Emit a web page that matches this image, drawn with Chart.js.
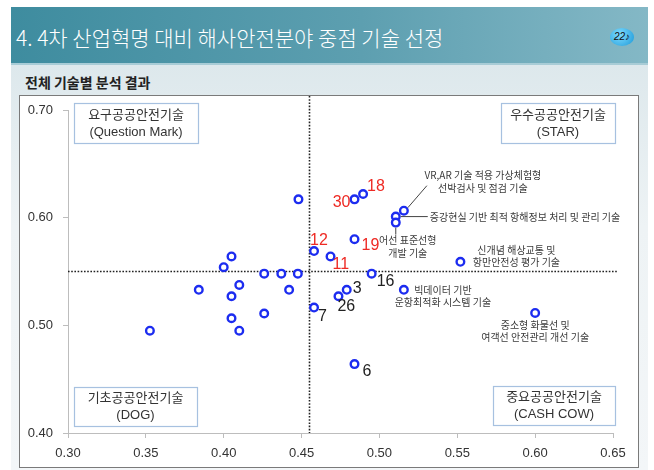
<!DOCTYPE html>
<html>
<head>
<meta charset="utf-8">
<script src="https://cdn.jsdelivr.net/npm/chart.js@4/dist/chart.umd.min.js"></script>
<style>
  html, body { margin: 0; padding: 0; background: #fff; }
  #page { position: relative; width: 654px; height: 470px; overflow: hidden; font-family: 'Noto Sans CJK KR', sans-serif; }
  #banner { position: absolute; left: 11px; top: 7px; width: 637px; height: 56px;
    background: linear-gradient(to right, #3e8c9f 0%, #5d9fb0 55%, #84b8c6 100%);
    border-bottom: 2px solid #a8ccd6; }
  #title { position: absolute; left: 5px; top: 17px; color: #fff; font-size: 21px; font-weight: 300; line-height: 26px; white-space: nowrap; }
  #badge { position: absolute; left: 599px; top: 21px; width: 24px; height: 18px; border-radius: 50%;
    background: radial-gradient(circle at 40% 35%, #7fdcff, #1a98d8); color: #111; font: italic 10px 'Liberation Sans', sans-serif;
    line-height: 18px; text-align: center; }
  #body { position: absolute; left: 11px; top: 65px; width: 637px; height: 405px;
    background: linear-gradient(#dde8ec, #eef3f5 40%, #f3f6f8); }
  #subtitle { position: absolute; left: 14px; top: 7px; font-size: 14px; font-weight: 700; color: #222; }
  #frame { position: absolute; left: 19px; top: 95px; width: 618px; height: 371px; background: #fff; border: 1px solid #7a7a7a; }
  #myChart { position: absolute; left: 0; top: 0; }
</style>
</head>
<body>
<div id="page">
  <div id="banner">
    <div id="title">4. 4차 산업혁명 대비 해사안전분야 중점 기술 선정</div>
    <div id="badge">22♪</div>
  </div>
  <div id="body"><div id="subtitle">전체 기술별 분석 결과</div></div>
  <div id="frame"></div>
  <canvas id="myChart" width="654" height="470"></canvas>
</div>
<script>
// 기술별 좌표 (x, y)
const scoreX = [0.448, 0.484, 0.4895, 0.5157, 0.5105, 0.5105, 0.484, 0.458, 0.4686, 0.405,
  0.400, 0.426, 0.437, 0.4476, 0.495, 0.384, 0.410, 0.405, 0.442, 0.479,
  0.4737, 0.5157, 0.458, 0.426, 0.405, 0.410, 0.3526, 0.552, 0.600, 0.484];
const scoreY = [0.617, 0.617, 0.622, 0.6065, 0.601, 0.5954, 0.580, 0.569, 0.564, 0.564,
  0.554, 0.548, 0.548, 0.548, 0.548, 0.533, 0.5375, 0.527, 0.533, 0.533,
  0.527, 0.533, 0.5165, 0.511, 0.5066, 0.495, 0.495, 0.559, 0.5115, 0.464];
const pointTags = ['', '30', '18', '', '', '', '19', '12', '11', '',
  '', '', '', '', '16', '', '', '', '', '3',
  '26', '', '7', '', '', '', '', '', '', '6'];
const redTags = ['30', '18', '12', '11', '19'];
const techNotes = [
  { point: 3, lines: ['VR,AR 기술 적용 가상체험형', '선박검사 및 점검 기술'] },
  { point: 4, lines: ['증강현실 기반 최적 항해정보 처리 및 관리 기술'] },
  { point: 5, lines: ['어선 표준선형', '개발 기술'] },
  { point: 27, lines: ['신개념 해상교통 및', '항만안전성 평가 기술'] },
  { point: 21, lines: ['빅데이터 기반', '운항최적화 시스템 기술'] },
  { point: 28, lines: ['중소형 화물선 및', '여객선 안전관리 개선 기술'] },
];
const quadrants = [
  ['요구공공안전기술', '(Question Mark)'],
  ['우수공공안전기술', '(STAR)'],
  ['기초공공안전기술', '(DOG)'],
  ['중요공공안전기술', '(CASH COW)'],
];
const xCut = 0.455;
const yCut = 0.55;

// 스타일 / 위치 (데이터 아님)
const tagOffsets = {
  '30': [-4, 3, 'right'], '18': [4, -7, 'left'], '12': [-4, -10, 'left'], '11': [2, 8, 'left'],
  '19': [7, 6, 'left'], '16': [5, 8, 'left'], '3': [6, -1, 'left'], '26': [-1, 10, 'left'],
  '7': [4, 9, 'left'], '6': [8, 8, 'left'],
};
const noteLayout = [
  { dx: 79, dy: -35, align: 'center', line: [4, -3, 23, -25] },
  { dx: 34, dy: 1, align: 'left', line: [5, 0, 32, 0] },
  { dx: 12, dy: 18, align: 'center', line: [0, 5, 0, 12] },
  { dx: 56, dy: -12, align: 'center' },
  { dx: 39, dy: 0, align: 'center' },
  { dx: 0, dy: 12, align: 'center' },
];
const boxLayout = [
  { left: 6, top: -7, w: 124, h: 40 },
  { right: 2, top: -7, w: 114, h: 40 },
  { left: 6, bottom: -46, w: 123, h: 39 },
  { right: 2, bottom: -47, w: 122, h: 39 },
];
const fontFamily = "'Liberation Sans', 'Noto Sans CJK KR', sans-serif";

const overlay = {
  id: 'overlay',
  beforeDatasetsDraw(chart) {
    const { ctx, chartArea, scales: { x, y } } = chart;
    ctx.save();
    // 점선 기준선
    ctx.strokeStyle = '#222';
    ctx.lineWidth = 1.6;
    ctx.setLineDash([1.6, 1.6]);
    const vx = Math.round(x.getPixelForValue(xCut)) + 0.5;
    ctx.beginPath();
    ctx.moveTo(vx, chartArea.top - 14);
    ctx.lineTo(vx, chartArea.bottom);
    ctx.stroke();
    const hy = Math.round(y.getPixelForValue(yCut)) + 0.5;
    ctx.beginPath();
    ctx.moveTo(chartArea.left, hy);
    ctx.lineTo(chartArea.right + 4, hy);
    ctx.stroke();
    ctx.setLineDash([]);

    // 사분면 박스
    quadrants.forEach((q, i) => {
      const b = boxLayout[i];
      const bx = b.left !== undefined ? chartArea.left + b.left : chartArea.right + b.right - b.w;
      const by = b.top !== undefined ? chartArea.top + b.top : chartArea.bottom + b.bottom;
      ctx.fillStyle = '#fff';
      ctx.fillRect(bx, by, b.w, b.h);
      ctx.strokeStyle = '#a7c1e0';
      ctx.lineWidth = 1.2;
      ctx.strokeRect(bx + 0.5, by + 0.5, b.w, b.h);
      ctx.fillStyle = '#333';
      ctx.font = `13px ${fontFamily}`;
      ctx.textAlign = 'center';
      ctx.textBaseline = 'middle';
      ctx.fillText(q[0], bx + b.w / 2, by + b.h / 2 - 8);
      ctx.fillText(q[1], bx + b.w / 2, by + b.h / 2 + 9);
    });
    ctx.restore();
  },
  afterDatasetsDraw(chart) {
    const { ctx, scales: { x, y } } = chart;
    ctx.save();
    ctx.textBaseline = 'middle';
    // 번호 라벨
    pointTags.forEach((tag, i) => {
      if (!tag) return;
      const px = x.getPixelForValue(scoreX[i]);
      const py = y.getPixelForValue(scoreY[i]);
      const [dx, dy, align] = tagOffsets[tag];
      ctx.fillStyle = redTags.includes(tag) ? '#ee2a24' : '#222';
      ctx.font = `16px ${fontFamily}`;
      ctx.textAlign = align;
      ctx.fillText(tag, px + dx, py + dy);
    });
    // 기술 설명
    techNotes.forEach((note, i) => {
      const l = noteLayout[i];
      const px = x.getPixelForValue(scoreX[note.point]);
      const py = y.getPixelForValue(scoreY[note.point]);
      if (l.line) {
        ctx.strokeStyle = '#444';
        ctx.lineWidth = 1;
        ctx.beginPath();
        ctx.moveTo(px + l.line[0], py + l.line[1]);
        ctx.lineTo(px + l.line[2], py + l.line[3]);
        ctx.stroke();
      }
      ctx.fillStyle = '#3a3a3a';
      ctx.font = "10px 'Noto Sans CJK KR', sans-serif";
      ctx.textAlign = l.align;
      note.lines.forEach((t, k) => ctx.fillText(t, px + l.dx, py + l.dy + k * 12.5));
    });
    ctx.restore();
  },
};

const axisStyle = {
  border: { color: '#bdbdbd', width: 1 },
  grid: { drawOnChartArea: false, drawTicks: true, tickLength: 5, color: '#bdbdbd' },
};

new Chart(document.getElementById('myChart'), {
  type: 'scatter',
  data: {
    datasets: [
      {
        data: scoreX.map((v, i) => ({ x: v, y: scoreY[i] })),
        pointRadius: 3.8,
        pointBorderWidth: 2.4,
        borderColor: '#1c2cf0',
        backgroundColor: '#ffffff',
      },
    ],
  },
  options: {
    responsive: false,
    animation: false,
    layout: { padding: { left: 0, top: 110, right: 41, bottom: 7 } },
    plugins: { legend: { display: false }, tooltip: { enabled: false } },
    scales: {
      x: {
        ...axisStyle,
        min: 0.3,
        max: 0.65,
        ticks: {
          stepSize: 0.05,
          padding: 8,
          color: '#333',
          font: { family: fontFamily, size: 13 },
          callback: (v) => v.toFixed(2),
        },
        afterFit: (scale) => { scale.height = 30; },
      },
      y: {
        ...axisStyle,
        min: 0.4,
        max: 0.7,
        ticks: {
          stepSize: 0.1,
          padding: 10,
          color: '#333',
          font: { family: fontFamily, size: 13 },
          callback: (v) => v.toFixed(2),
        },
        afterFit: (scale) => { scale.width = 68; },
      },
    },
  },
  plugins: [overlay],
});
</script>
</body>
</html>
